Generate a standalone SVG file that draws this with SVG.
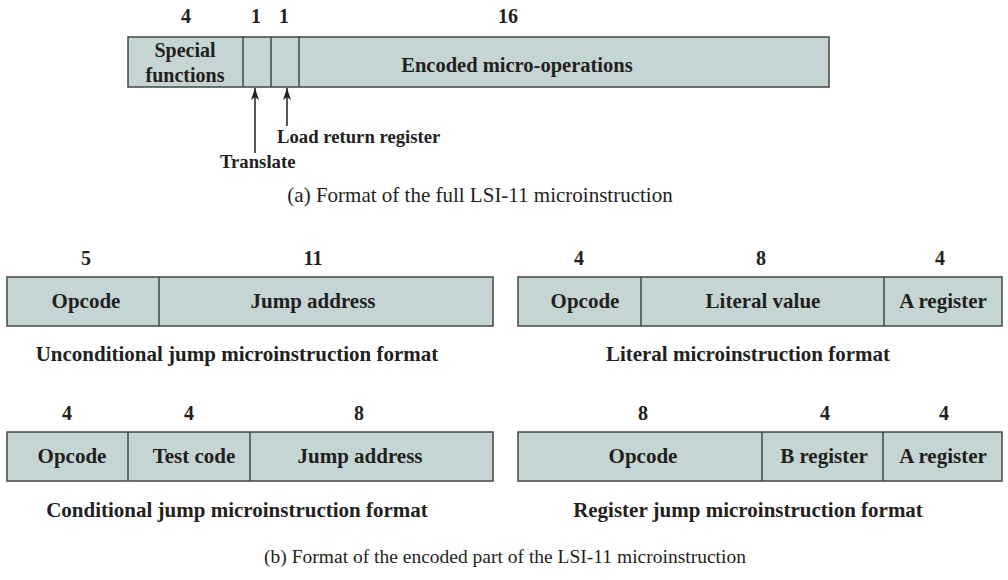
<svg xmlns="http://www.w3.org/2000/svg" width="1008" height="580" viewBox="0 0 1008 580">
<style>
.box{fill:#c5d5d3;stroke:#444;stroke-width:1.5}
.div{stroke:#444;stroke-width:1.5;fill:none}
text{font-family:"Liberation Serif","Times New Roman",serif;fill:#231f20}
.b{font-weight:bold;font-size:21px}
.n{font-weight:bold;font-size:20px;text-anchor:middle}
.l{font-weight:bold;font-size:21px;text-anchor:middle}
.cap{font-size:21px;text-anchor:middle}
.arr{stroke:#231f20;stroke-width:1.5;fill:none}
</style>
<defs>
<marker id="ah" viewBox="0 0 12 8" refX="12" refY="4" markerWidth="12" markerHeight="8" markerUnits="userSpaceOnUse" orient="auto">
<path d="M0,0 L12,4 L0,8 L3,4 Z" fill="#231f20"/>
</marker>
</defs>

<g id="full-format">
<text class="n" x="186" y="23">4</text>
<text class="n" x="256" y="23">1</text>
<text class="n" x="284" y="23">1</text>
<text class="n" x="508" y="23">16</text>
<rect class="box" x="128" y="37" width="701" height="50"/>
<line class="div" x1="243" y1="37" x2="243" y2="87"/>
<line class="div" x1="271" y1="37" x2="271" y2="87"/>
<line class="div" x1="299" y1="37" x2="299" y2="87"/>
<text class="l" x="185" y="57" style="font-size:20px">Special</text>
<text class="l" x="185" y="82" style="font-size:20px">functions</text>
<text class="l" x="517" y="72" style="font-size:20.5px">Encoded micro-operations</text>
</g>

<g id="connectors">
<line class="arr" x1="255" y1="153" x2="255" y2="88" marker-end="url(#ah)"/>
<line class="arr" x1="287" y1="126" x2="287" y2="88" marker-end="url(#ah)"/>
</g>

<g id="labels-a">
<text class="b" x="277" y="143" style="font-size:18.7px">Load return register</text>
<text class="b" x="220" y="168" style="font-size:18.7px">Translate</text>
<text class="cap" x="480" y="202">(a) Format of the full LSI-11 microinstruction</text>
</g>

<g id="unconditional">
<text class="n" x="86" y="265">5</text>
<text class="n" x="313" y="265">11</text>
<rect class="box" x="7" y="277" width="486" height="49"/>
<line class="div" x1="159" y1="277" x2="159" y2="326"/>
<text class="l" x="86" y="308">Opcode</text>
<text class="l" x="313" y="308">Jump address</text>
<text class="l" x="237" y="361">Unconditional jump microinstruction format</text>
</g>

<g id="literal">
<text class="n" x="579" y="265">4</text>
<text class="n" x="761" y="265">8</text>
<text class="n" x="940" y="265">4</text>
<rect class="box" x="518" y="277" width="484" height="49"/>
<line class="div" x1="641" y1="277" x2="641" y2="326"/>
<line class="div" x1="884" y1="277" x2="884" y2="326"/>
<text class="l" x="585" y="308">Opcode</text>
<text class="l" x="763" y="308">Literal value</text>
<text class="l" x="943" y="308">A register</text>
<text class="l" x="748" y="361">Literal microinstruction format</text>
</g>

<g id="conditional">
<text class="n" x="67" y="420">4</text>
<text class="n" x="189" y="420">4</text>
<text class="n" x="359" y="420">8</text>
<rect class="box" x="7" y="432" width="486" height="49"/>
<line class="div" x1="128" y1="432" x2="128" y2="481"/>
<line class="div" x1="250" y1="432" x2="250" y2="481"/>
<text class="l" x="72" y="463">Opcode</text>
<text class="l" x="194" y="463">Test code</text>
<text class="l" x="360" y="463">Jump address</text>
<text class="l" x="237" y="517">Conditional jump microinstruction format</text>
</g>

<g id="register">
<text class="n" x="643" y="420">8</text>
<text class="n" x="825" y="420">4</text>
<text class="n" x="944" y="420">4</text>
<rect class="box" x="518" y="432" width="484" height="49"/>
<line class="div" x1="762" y1="432" x2="762" y2="481"/>
<line class="div" x1="883" y1="432" x2="883" y2="481"/>
<text class="l" x="643" y="463">Opcode</text>
<text class="l" x="824" y="463">B register</text>
<text class="l" x="943" y="463">A register</text>
<text class="l" x="748" y="517">Register jump microinstruction format</text>
</g>

<g id="caption-b">
<text class="cap" x="505" y="563" style="font-size:19.5px">(b) Format of the encoded part of the LSI-11 microinstruction</text>
</g>
</svg>
